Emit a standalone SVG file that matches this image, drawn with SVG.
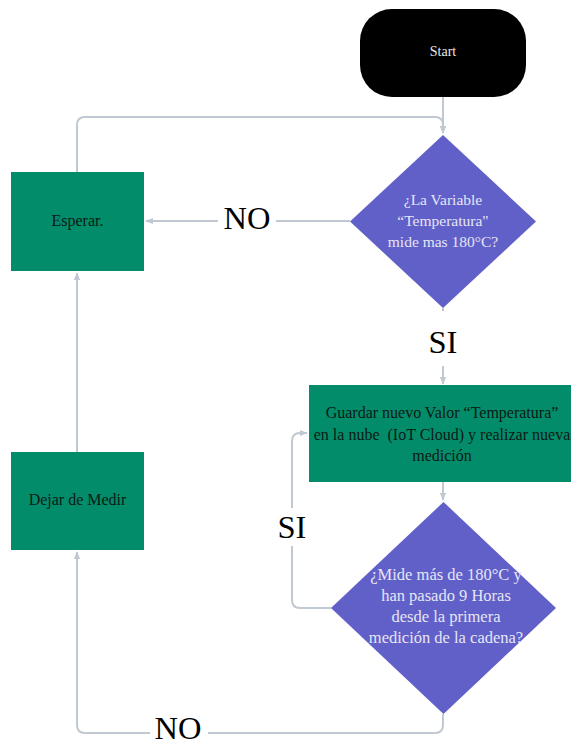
<svg xmlns="http://www.w3.org/2000/svg" width="571" height="740" viewBox="0 0 571 740">
<style>
.conn{fill:none;stroke:#c0c9d1;stroke-width:2}
.green{fill:#038c6a}
.purple{fill:#6060c8}
text{font-family:'Liberation Serif','DejaVu Serif','Times New Roman',serif}
.t{text-anchor:middle}
.dt{fill:#e6e6f5}
.gt{fill:#0a1a14;font-size:16px}
.lbl{font-size:32.5px;fill:#000;text-anchor:middle}
</style>
<defs>
<marker id="arr" viewBox="0 0 10 10" refX="9" refY="5" markerWidth="4" markerHeight="4" orient="auto">
<path d="M0,1 L10,5 L0,9 z" fill="#c0c9d1"/>
</marker>
</defs>
<g id="connectors">
<path class="conn" d="M443,97 V133" marker-end="url(#arr)"/>
<path class="conn" d="M77,172 V125 Q77,117 85,117 H435 Q443,117 443,125 V133" marker-end="url(#arr)"/>
<path class="conn" d="M350,221 H146" marker-end="url(#arr)"/>
<path class="conn" d="M443,308 V384" marker-end="url(#arr)"/>
<path class="conn" d="M443,482 V500" marker-end="url(#arr)"/>
<path class="conn" d="M331,608 H300 Q292,608 292,600 V441 Q292,433 300,433 H307" marker-end="url(#arr)"/>
<path class="conn" d="M443,714 V725 Q443,733 435,733 H85 Q77,733 77,725 V552" marker-end="url(#arr)"/>
<path class="conn" d="M77,452 V273" marker-end="url(#arr)"/>
</g>
<g id="labels">
<rect x="218" y="202" width="58" height="34" fill="#fff"/>
<text class="lbl" x="247" y="229">NO</text>
<rect x="424" y="311" width="38" height="55" fill="#fff"/>
<text class="lbl" x="443" y="353">SI</text>
<rect x="274" y="508" width="36" height="38" fill="#fff"/>
<text class="lbl" x="292" y="538">SI</text>
<rect x="150" y="716" width="58" height="24" fill="#fff"/>
<text class="lbl" x="178" y="739">NO</text>
</g>
<g id="start">
<rect x="360" y="9" width="166" height="88" rx="32" ry="32" fill="#000"/>
<text class="t" x="443" y="56" font-size="14" fill="#e8e8e8">Start</text>
</g>
<g id="decision1" font-size="15.5">
<polygon class="purple" points="443,135 536,221.5 443,308 350,221.5"/>
<text class="t dt" x="443" y="205">¿La Variable</text>
<text class="t dt" x="443" y="226">“Temperatura"</text>
<text class="t dt" x="443" y="247">mide mas 180°C?</text>
</g>
<g id="esperar">
<rect class="green" x="11" y="172" width="133" height="99"/>
<text class="t gt" x="77.5" y="226">Esperar.</text>
</g>
<g id="guardar">
<rect class="green" x="309" y="385" width="262" height="97"/>
<text class="t gt" x="442" y="418">Guardar nuevo Valor “Temperatura”</text>
<text class="t gt" x="442" y="440" xml:space="preserve">en la nube  (IoT Cloud) y realizar nueva</text>
<text class="t gt" x="442" y="461">medición</text>
</g>
<g id="decision2" font-size="16.5">
<polygon class="purple" points="443.5,502 556,608 443.5,714 331,608"/>
<text class="t dt" x="446" y="580">¿Mide más de 180°C y</text>
<text class="t dt" x="446" y="601">han pasado 9 Horas</text>
<text class="t dt" x="446" y="622">desde la primera</text>
<text class="t dt" x="446" y="643">medición de la cadena?</text>
</g>
<g id="dejar">
<rect class="green" x="11" y="452" width="133" height="98"/>
<text class="t gt" x="77.5" y="505">Dejar de Medir</text>
</g>
</svg>
